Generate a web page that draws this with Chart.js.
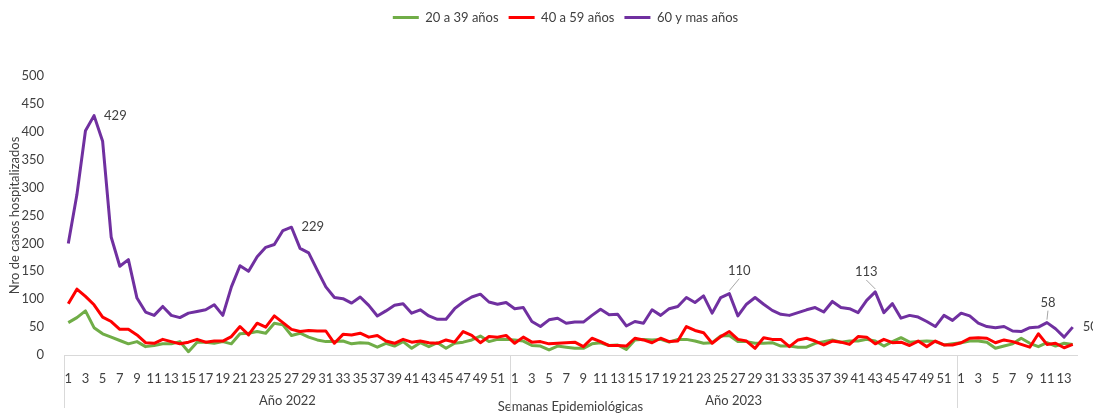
<!DOCTYPE html>
<html lang="es">
<head>
<meta charset="utf-8">
<title>Casos hospitalizados por grupo de edad</title>
<script src="https://cdn.jsdelivr.net/npm/chart.js@4.4.1/dist/chart.umd.min.js"></script>
<style>
    html, body { margin: 0; padding: 0; background: #fff; }
</style>
</head>
<body>
<canvas id="chart" width="1093" height="415"></canvas>
<script>
// Semanas epidemiologicas: 2022 (1-52), 2023 (1-52), 2024 (1-14)
const weeks = [
    1, 2, 3, 4, 5, 6, 7, 8, 9, 10, 11, 12, 13, 14, 15, 16, 17, 18, 19, 20, 21, 22, 23, 24, 25, 26,
    27, 28, 29, 30, 31, 32, 33, 34, 35, 36, 37, 38, 39, 40, 41, 42, 43, 44, 45, 46, 47, 48, 49, 50, 51, 52,
    1, 2, 3, 4, 5, 6, 7, 8, 9, 10, 11, 12, 13, 14, 15, 16, 17, 18, 19, 20, 21, 22, 23, 24, 25, 26,
    27, 28, 29, 30, 31, 32, 33, 34, 35, 36, 37, 38, 39, 40, 41, 42, 43, 44, 45, 46, 47, 48, 49, 50, 51, 52,
    1, 2, 3, 4, 5, 6, 7, 8, 9, 10, 11, 12, 13, 14
];
const yearLabels = ['Año 2022', 'Año 2023', ''];
const yearWeeks = [52, 52, 14];

const seriesNames = ['20 a 39 años', '40 a 59 años', '60 y mas años'];
const seriesColors = ['#70AD47', '#FF0000', '#7030A0'];

const age20to39 = [
    58, 67, 79, 49, 38, 32, 26, 20, 24, 15, 17, 20, 20, 24, 6, 23, 23, 21, 24, 20, 38, 39, 42, 39, 57, 54,
    35, 39, 32, 27, 24, 24, 25, 20, 22, 21, 14, 21, 16, 24, 12, 22, 15, 22, 12, 21, 23, 27, 34, 24, 28, 28,
    27, 25, 17, 16, 9, 16, 14, 12, 12, 20, 22, 17, 18, 10, 27, 28, 27, 28, 23, 28, 28, 25, 21, 22,
    34, 35, 24, 24, 21, 21, 22, 16, 16, 14, 14, 21, 24, 27, 23, 25, 25, 28, 25, 16, 24, 31, 23, 24, 25, 24, 18, 20,
    22, 25, 25, 23, 12, 16, 20, 30, 21, 15, 22, 16, 21, 19
];
const age40to59 = [
    92, 118, 105, 90, 68, 60, 46, 46, 36, 22, 21, 28, 24, 20, 23, 28, 23, 25, 25, 33, 51, 36, 57, 50, 70, 58,
    46, 42, 44, 43, 43, 21, 37, 36, 39, 32, 35, 25, 21, 28, 23, 25, 22, 21, 27, 23, 42, 35, 22, 33, 32, 35,
    21, 32, 23, 24, 20, 21, 22, 23, 15, 30, 24, 17, 17, 16, 30, 27, 22, 30, 24, 25, 51, 44, 40, 21,
    33, 42, 28, 25, 12, 31, 28, 28, 15, 27, 30, 25, 18, 25, 23, 19, 33, 32, 20, 28, 22, 23, 17, 25, 15, 25, 18, 18,
    22, 30, 31, 30, 22, 27, 24, 19, 14, 38, 19, 21, 13, 19
];
const age60plus = [
    200, 287, 402, 429, 383, 211, 159, 171, 102, 77, 71, 87, 71, 67, 75, 78, 81, 90, 71, 122, 160, 150, 176, 193, 198, 223,
    229, 191, 183, 152, 122, 103, 101, 93, 104, 89, 70, 79, 89, 92, 75, 81, 70, 64, 64, 83, 95, 104, 109, 95, 91, 94,
    83, 85, 60, 51, 63, 66, 57, 59, 59, 71, 82, 72, 73, 52, 60, 57, 81, 71, 83, 87, 103, 94, 106, 75,
    103, 110, 70, 91, 103, 91, 80, 73, 71, 76, 81, 85, 77, 96, 85, 83, 76, 98, 113, 76, 92, 66, 71, 68, 60, 51, 71, 62,
    75, 70, 57, 51, 49, 51, 43, 42, 49, 50, 58, 47, 32, 50
];

// Etiquetas de valor (serie, indice) con su desplazamiento
const valueLabels = [
    { series: 2, index: 3, dx: 10, dy: 0, align: 'left', leader: false },
    { series: 2, index: 26, dx: 10, dy: 0, align: 'left', leader: false },
    { series: 2, index: 77, dx: 10, dy: -23, align: 'center', leader: true },
    { series: 2, index: 94, dx: -9, dy: -20, align: 'center', leader: true },
    { series: 2, index: 114, dx: 1, dy: -20, align: 'center', leader: true },
    { series: 2, index: 117, dx: 10, dy: 0, align: 'left', leader: false }
];

const FONT = 'Lato, "Open Sans", sans-serif';
const TEXT_COLOR = '#404040';
const AXIS_COLOR = '#D9D9D9';

// Grupos de años debajo de las semanas
const yearAxisPlugin = {
    id: 'yearAxis',
    afterDraw(chart) {
        const x = chart.scales.x;
        const ctx = chart.ctx;
        const step = x.getPixelForValue(1) - x.getPixelForValue(0);
        const lineBottom = chart.height - 7;
        let start = 0;
        ctx.save();
        ctx.strokeStyle = AXIS_COLOR;
        ctx.lineWidth = 1;
        ctx.fillStyle = TEXT_COLOR;
        ctx.font = '13px ' + FONT;
        ctx.textAlign = 'center';
        ctx.textBaseline = 'middle';
        yearWeeks.forEach((n, i) => {
            const left = Math.round(x.getPixelForValue(start) - step / 2) + 0.5;
            const right = x.getPixelForValue(start + n - 1) + step / 2;
            ctx.beginPath();
            ctx.moveTo(left, x.top);
            ctx.lineTo(left, lineBottom);
            ctx.stroke();
            if (yearLabels[i]) ctx.fillText(yearLabels[i], (left + right) / 2, x.top + 46);
            start += n;
        });
        ctx.restore();
    }
};

const valueLabelPlugin = {
    id: 'valueLabels',
    afterDatasetsDraw(chart) {
        const ctx = chart.ctx;
        const x = chart.scales.x;
        const y = chart.scales.y;
        ctx.save();
        ctx.font = '13px ' + FONT;
        ctx.fillStyle = TEXT_COLOR;
        ctx.textBaseline = 'middle';
        valueLabels.forEach(l => {
            const value = chart.data.datasets[l.series].data[l.index];
            const px = x.getPixelForValue(l.index);
            const py = y.getPixelForValue(value);
            const tx = px + l.dx;
            const ty = py + l.dy;
            if (l.leader) {
                ctx.strokeStyle = '#A6A6A6';
                ctx.lineWidth = 1;
                ctx.beginPath();
                ctx.moveTo(px, py - 3);
                ctx.lineTo(tx, ty + 8);
                ctx.stroke();
            }
            ctx.textAlign = l.align;
            ctx.fillText(String(value), tx, ty);
        });
        ctx.restore();
    }
};

// Espacio bajo la leyenda y ligero desplazamiento como en el original
const legendSpace = {
    id: 'legendSpace',
    beforeInit(chart) {
        const legend = chart.legend;
        const fit = legend.fit;
        const draw = legend.draw;
        legend.fit = function () {
            fit.bind(legend)();
            this.height += 39;
        };
        legend.draw = function () {
            const ctx = chart.ctx;
            ctx.save();
            ctx.translate(27, -3);
            draw.bind(legend)();
            ctx.restore();
        };
    }
};

const seriesData = [age20to39, age40to59, age60plus];

new Chart(document.getElementById('chart'), {
    type: 'line',
    data: {
        labels: weeks,
        datasets: seriesNames.map((name, i) => ({
            label: name,
            data: seriesData[i],
            borderColor: seriesColors[i],
            backgroundColor: seriesColors[i],
            borderWidth: 3,
            pointRadius: 0,
            tension: 0,
            borderJoinStyle: 'round',
            order: 3 - i
        }))
    },
    options: {
        responsive: false,
        animation: false,
        events: [],
        layout: { padding: { left: 0, right: 16, top: 4, bottom: 0 } },
        plugins: {
            tooltip: { enabled: false },
            legend: {
                position: 'top',
                labels: {
                    boxWidth: 26,
                    boxHeight: 3,
                    padding: 10,
                    color: TEXT_COLOR,
                    font: { family: FONT, size: 13 },
                    sort: (a, b) => a.datasetIndex - b.datasetIndex,
                    generateLabels: chart => chart.data.datasets.map((ds, i) => ({
                        text: ds.label,
                        fillStyle: ds.borderColor,
                        strokeStyle: ds.borderColor,
                        lineWidth: 0,
                        hidden: false,
                        datasetIndex: i,
                        fontColor: TEXT_COLOR
                    }))
                }
            }
        },
        scales: {
            x: {
                offset: true,
                grid: { display: false, offset: true },
                border: { display: true, color: AXIS_COLOR, width: 1 },
                ticks: {
                    autoSkip: false,
                    maxRotation: 0,
                    padding: 8,
                    color: TEXT_COLOR,
                    font: { family: FONT, size: 13 },
                    callback: (value, index) => (weeks[index] % 2 === 1 ? weeks[index] : '')
                },
                title: {
                    display: true,
                    text: 'Semanas Epidemiológicas',
                    color: TEXT_COLOR,
                    font: { family: FONT, size: 13 },
                    padding: { top: 0, bottom: 0 }
                },
                afterFit: scale => { scale.height = 60; }
            },
            y: {
                min: 0,
                max: 500,
                grid: { display: false },
                border: { display: false },
                ticks: {
                    stepSize: 50,
                    padding: 12,
                    color: TEXT_COLOR,
                    font: { family: FONT, size: 13 }
                },
                title: {
                    display: true,
                    text: 'Nro de casos hospitalizados',
                    color: TEXT_COLOR,
                    font: { family: FONT, size: 13 },
                    padding: { top: 7, bottom: 0 }
                },
                afterFit: scale => { scale.width = 64; }
            }
        }
    },
    plugins: [yearAxisPlugin, valueLabelPlugin, legendSpace]
});
</script>
</body>
</html>
